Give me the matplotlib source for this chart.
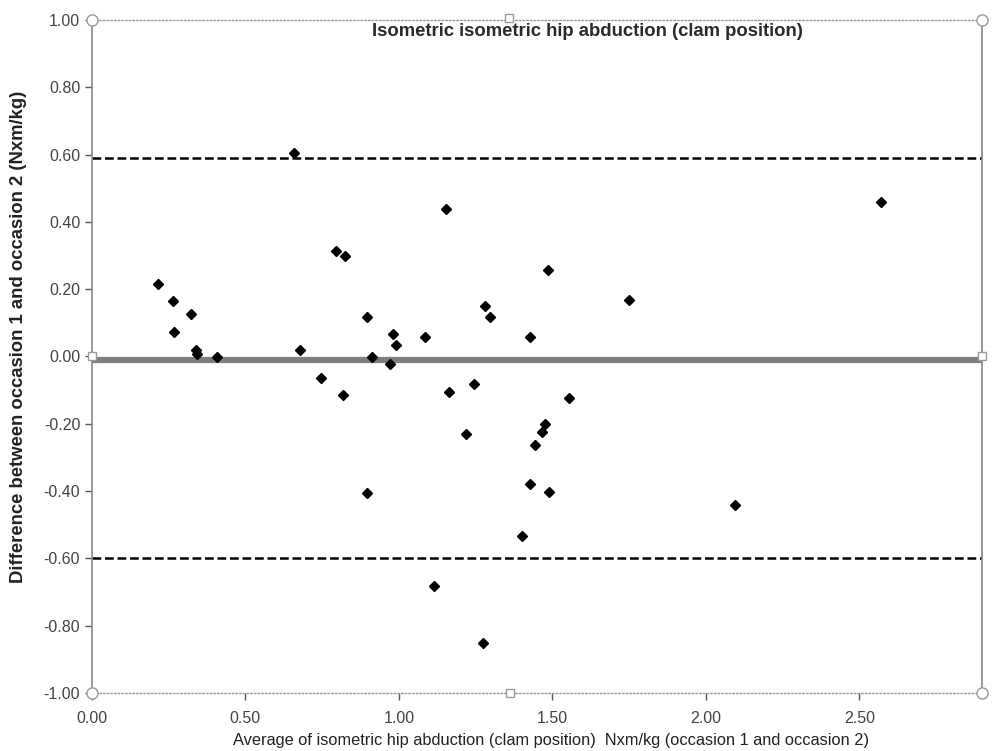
import matplotlib
matplotlib.use('Agg')
import matplotlib.pyplot as plt

plt.rcParams['font.family'] = ['Liberation Sans', 'DejaVu Sans']

# mean of both occasions (x) and difference between occasions (y)
avg_values = [0.215, 0.263, 0.266, 0.322, 0.338, 0.341, 0.406, 0.658, 0.678, 0.746,
              0.794, 0.826, 0.819, 0.895, 0.913, 0.895, 0.971, 0.981, 0.992, 1.085,
              1.115, 1.155, 1.163, 1.220, 1.245, 1.273, 1.280, 1.297, 1.401, 1.427,
              1.428, 1.445, 1.466, 1.476, 1.486, 1.489, 1.555, 1.749, 2.095, 2.572]
diff_values = [0.215, 0.165, 0.074, 0.126, 0.018, 0.008, -0.002, 0.605, 0.018, -0.065,
               0.313, 0.298, -0.114, 0.117, -0.002, -0.405, -0.022, 0.068, 0.035, 0.057,
               -0.683, 0.437, -0.105, -0.231, -0.082, -0.851, 0.150, 0.117, -0.534, 0.058,
               -0.379, -0.262, -0.223, -0.200, 0.258, -0.402, -0.122, 0.167, -0.442, 0.459]

mean_diff = -0.01
upper_loa = 0.59
lower_loa = -0.60

x_ticks = [0.0, 0.5, 1.0, 1.5, 2.0, 2.5]
y_ticks = [-1.0, -0.8, -0.6, -0.4, -0.2, 0.0, 0.2, 0.4, 0.6, 0.8, 1.0]

fig = plt.figure(figsize=(9.92, 7.51), dpi=100)
ax = fig.add_axes([0.0927, 0.0772, 0.8973, 0.8962])

ax.axhline(mean_diff, color='#7f7f7f', linewidth=4.5, zorder=2)
ax.axhline(upper_loa, color='black', linewidth=1.8, linestyle=(0, (3.5, 1.5)), zorder=2)
ax.axhline(lower_loa, color='black', linewidth=1.8, linestyle=(0, (3.5, 1.5)), zorder=2)

ax.plot(avg_values, diff_values, linestyle='none', marker='D', markersize=4.6,
        color='black', zorder=3)

ax.set_xlim(0, 2.9)
ax.set_ylim(-1.0, 1.0)
ax.set_xticks(x_ticks)
ax.set_xticklabels([f'{v:.2f}' for v in x_ticks])
ax.set_yticks(y_ticks)
ax.set_yticklabels([f'{v:.2f}' for v in y_ticks])
ax.tick_params(axis='both', labelsize=11.5, labelcolor='#444444', color='#555555',
               length=5, width=1)
ax.tick_params(axis='x', pad=8)

for side in ['left', 'right']:
    ax.spines[side].set_color('#888888')
    ax.spines[side].set_linewidth(1.2)
for side in ['top', 'bottom']:
    ax.spines[side].set_color('#999999')
    ax.spines[side].set_linewidth(1.0)
    ax.spines[side].set_linestyle(':')

ax.text(0.557, 0.996, 'Isometric isometric hip abduction (clam position)',
        transform=ax.transAxes, ha='center', va='top', fontsize=13.3,
        fontweight='bold', color='#2a2a2a')

ax.set_xlabel('Average of isometric hip abduction (clam position)  Nxm/kg (occasion 1 and occasion 2)',
              fontsize=11.8, color='#222222')
ax.xaxis.set_label_coords(0.516, -0.06)
ax.set_ylabel('Difference between occasion 1 and occasion 2 (Nxm/kg)',
              fontsize=13.3, fontweight='bold', color='#222222')
ax.yaxis.set_label_coords(-0.073, 0.529)

# plot-area selection handles
for hx, hy in [(0, 0), (1, 0), (0, 1), (1, 1)]:
    ax.plot(hx, hy, marker='o', markersize=8, markerfacecolor='white',
            markeredgecolor='#999999', transform=ax.transAxes, clip_on=False, zorder=5)
for hx, hy in [(0.468, 1.003), (0.47, 0), (0, 0.5), (1, 0.5)]:
    ax.plot(hx, hy, marker='s', markersize=6, markerfacecolor='white',
            markeredgecolor='#999999', transform=ax.transAxes, clip_on=False, zorder=5)

fig.savefig('out.png', dpi=100)
